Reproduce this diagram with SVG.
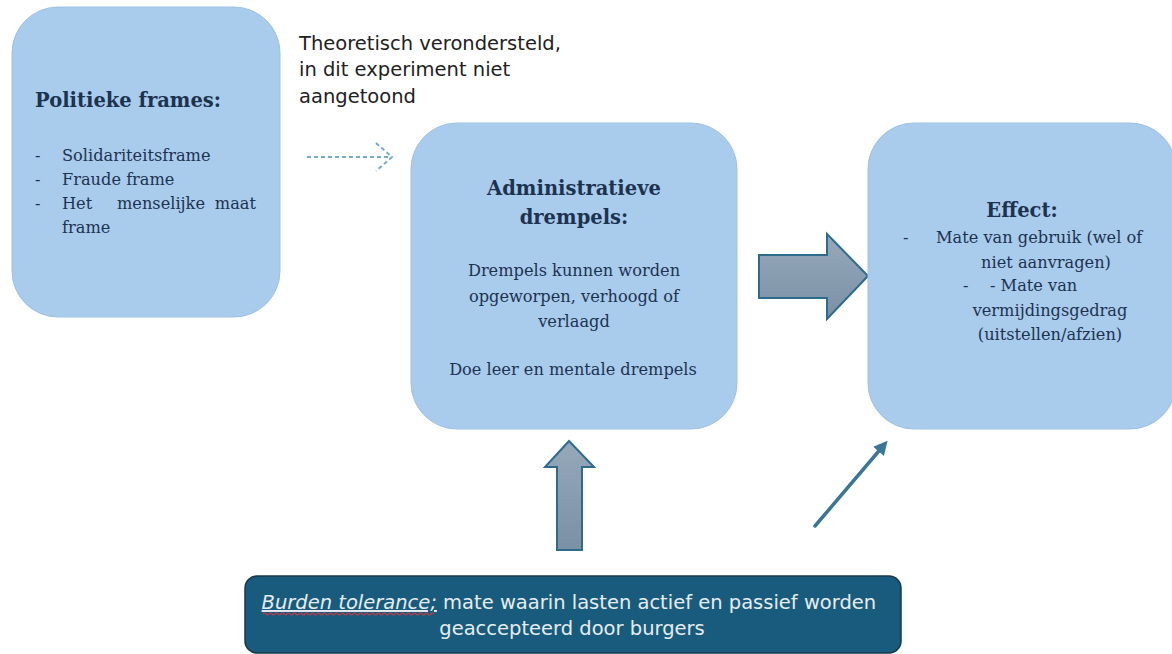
<svg xmlns="http://www.w3.org/2000/svg" width="1172" height="654" viewBox="0 0 1172 654">
  <style>
    .box { fill: #a9cbec; stroke: #9dc1e6; stroke-width: 1; }
    .serif { font-family: "DejaVu Serif", "Liberation Serif", serif; fill: #1c3350; }
    .title { font-weight: bold; font-size: 19.5px; }
    .body { font-size: 16.2px; }
    .sans { font-family: "DejaVu Sans", "Liberation Sans", sans-serif; }
    .block { fill: url(#grayGrad); stroke: #2e6b8c; stroke-width: 2; stroke-linejoin: miter; }
  </style>
  <defs>
    <linearGradient id="grayGrad" x1="0" y1="0" x2="0" y2="1">
      <stop offset="0" stop-color="#96a9bb"/>
      <stop offset="1" stop-color="#7a90a4"/>
    </linearGradient>
    <marker id="smallHead" viewBox="0 0 10 10" refX="6" refY="5" markerWidth="4" markerHeight="4" orient="auto" markerUnits="strokeWidth">
      <path d="M0,0 L10,5 L0,10 z" fill="#3b7697"/>
    </marker>
  </defs>
  <rect width="1172" height="654" fill="#ffffff"/>

  <g id="connectors">
    <g stroke="#78a9cb" stroke-width="2" stroke-dasharray="4,3" fill="none">
      <line x1="307" y1="157" x2="390" y2="157"/>
      <polyline points="376,143 392,157 376,171"/>
    </g>
    <polygon class="block" points="759,255 827,255 827,234 868,276 827,319 827,298 759,298"/>
    <polygon class="block" points="557,550 557,467 545,467 569,441 594,467 582,467 582,550"/>
    <line x1="815" y1="526" x2="884" y2="445" stroke="#3b7697" stroke-width="3.5" stroke-linecap="round" marker-end="url(#smallHead)"/>
  </g>

  <g id="label-theoretisch">
    <text class="sans" font-size="19.5" fill="#222222">
      <tspan x="299" y="50">Theoretisch verondersteld,</tspan>
      <tspan x="299" y="76">in dit experiment niet</tspan>
      <tspan x="299" y="103">aangetoond</tspan>
    </text>
  </g>

  <g id="node-politieke">
    <rect class="box" x="12" y="7" width="268" height="310" rx="46"/>
    <text class="serif title" x="35" y="107">Politieke frames:</text>
    <g class="serif body">
      <text x="35" y="161">-</text><text x="62" y="161">Solidariteitsframe</text>
      <text x="35" y="185">-</text><text x="62" y="185">Fraude frame</text>
      <text x="35" y="209">-</text><text x="62" y="209">Het</text><text x="117" y="209">menselijke</text><text x="256" y="209" text-anchor="end">maat</text>
      <text x="62" y="233">frame</text>
    </g>
  </g>

  <g id="node-administratieve">
    <rect class="box" x="411" y="123" width="326" height="306" rx="46"/>
    <g class="serif" text-anchor="middle">
      <text class="title" x="574" y="195">Administratieve</text>
      <text class="title" x="574" y="224">drempels:</text>
      <text class="body" x="574" y="276">Drempels kunnen worden</text>
      <text class="body" x="574" y="302">opgeworpen, verhoogd of</text>
      <text class="body" x="574" y="327">verlaagd</text>
      <text class="body" x="573" y="375">Doe leer en mentale drempels</text>
    </g>
  </g>

  <g id="node-effect">
    <rect class="box" x="868" y="123" width="308" height="306" rx="46"/>
    <g class="serif">
      <text class="title" x="1022" y="217" text-anchor="middle">Effect:</text>
      <text class="body" x="903" y="243">-</text>
      <text class="body" x="936" y="243">Mate van gebruik (wel of</text>
      <text class="body" x="1046" y="268" text-anchor="middle">niet aanvragen)</text>
      <text class="body" x="963" y="291">-</text>
      <text class="body" x="990" y="291">- Mate van</text>
      <text class="body" x="1050" y="316" text-anchor="middle">vermijdingsgedrag</text>
      <text class="body" x="1050" y="340" text-anchor="middle">(uitstellen/afzien)</text>
    </g>
  </g>

  <g id="node-burden">
    <rect x="245" y="576" width="656" height="77" rx="12" fill="#185b7c" stroke="#17384a" stroke-width="1.5"/>
    <path d="M263,614 q1.5,-2 3,0 t3,0 t3,0 t3,0 t3,0 t3,0 t3,0 t3,0 t3,0 t3,0 t3,0 t3,0 t3,0 t3,0 t3,0 t3,0 t3,0 t3,0 t3,0 t3,0 t3,0 t3,0 t3,0 t3,0 t3,0 t3,0 t3,0 t3,0 t3,0 t3,0 t3,0 t3,0 t3,0 t3,0 t3,0 t3,0 t3,0 t3,0 t3,0 t3,0 t3,0 t3,0 t3,0 t3,0 t3,0 t3,0 t3,0 t3,0 t3,0 t3,0 t3,0 t3,0 t3,0 t3,0 t3,0 t3,0 t3,0" fill="none" stroke="#d9363e" stroke-width="1.2"/>
    <text class="sans" font-size="19.5" fill="#e6edf2" text-anchor="middle">
      <tspan x="572" y="609"><tspan font-style="italic" text-decoration="underline">Burden tolerance;</tspan> mate waarin lasten actief en passief worden</tspan>
      <tspan x="572" y="635">geaccepteerd door burgers</tspan>
    </text>
  </g>
</svg>
